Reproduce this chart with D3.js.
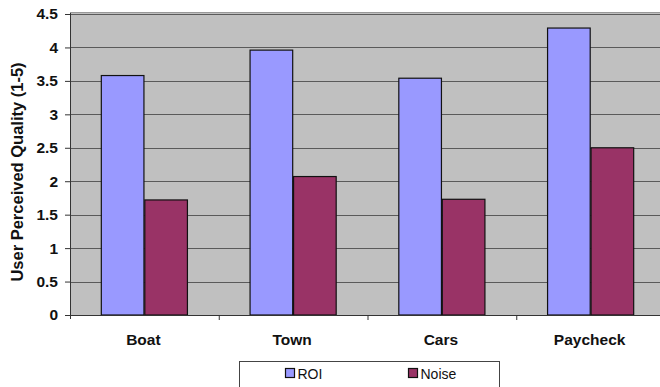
<!DOCTYPE html>
<html lang="en">
<head>
    <meta charset="UTF-8">
    <title>User Perceived Quality</title>
    <script src="https://d3js.org/d3.v7.min.js"></script>
    <style>
        body { margin: 0; background: #fff; font-family: Arial, "Liberation Sans", sans-serif; }
        svg { display: block; }
    </style>
</head>
<body>
    <div id="chart"></div>
    <script>
        const categories = ["Boat", "Town", "Cars", "Paycheck"];
        const seriesNames = ["ROI", "Noise"];
        const roiValues = [3.58, 3.96, 3.54, 4.29];
        const noiseValues = [1.72, 2.07, 1.73, 2.5];
        const yTicks = [0, 0.5, 1, 1.5, 2, 2.5, 3, 3.5, 4, 4.5];

        const colors = { ROI: "#9999FF", Noise: "#993366" };
        const W = 660, H = 387;
        const margin = { top: 14, right: -5, bottom: 72, left: 70 };
        const width = W - margin.left - margin.right;
        const height = H - margin.top - margin.bottom;

        const data = categories.map((c, i) => ({ cat: c, ROI: roiValues[i], Noise: noiseValues[i] }));

        const svg = d3.select("#chart").append("svg")
            .attr("width", W).attr("height", H);
        const g = svg.append("g").attr("transform", `translate(${margin.left},${margin.top})`);

        const x0 = d3.scaleBand().domain(categories).range([0, width]).paddingInner(0).paddingOuter(0);
        const x1 = d3.scaleBand().domain(seriesNames).range([0, x0.bandwidth()]).paddingInner(0.02).paddingOuter(0.72);
        const y = d3.scaleLinear().domain([0, 4.5]).range([height, 0]);

        // plot background
        g.append("rect").attr("x", 0).attr("y", -1).attr("width", width).attr("height", height + 1)
            .attr("fill", "#C0C0C0");
        g.append("line").attr("x1", 0).attr("x2", width).attr("y1", -1.5).attr("y2", -1.5)
            .attr("stroke", "#999");

        // gridlines
        g.selectAll(".grid").data(yTicks.slice(1)).enter().append("line")
            .attr("x1", 0).attr("x2", width)
            .attr("y1", d => Math.round(y(d)) + 0.5).attr("y2", d => Math.round(y(d)) + 0.5)
            .attr("stroke", "#5a5a5a").attr("stroke-width", 1);

        // bars
        const groups = g.selectAll(".grp").data(data).enter().append("g")
            .attr("transform", d => `translate(${x0(d.cat)},0)`);
        groups.selectAll("rect").data(d => seriesNames.map(s => ({ s, v: d[s] }))).enter().append("rect")
            .attr("x", d => x1(d.s))
            .attr("y", d => y(d.v))
            .attr("width", x1.bandwidth())
            .attr("height", d => height - y(d.v))
            .attr("fill", d => colors[d.s])
            .attr("stroke", "#111").attr("stroke-width", 1.2);

        // y axis
        const yAxis = g.append("g").call(d3.axisLeft(y).tickValues(yTicks).tickSize(5).tickPadding(7)
            .tickFormat(d => String(d)));
        yAxis.select(".domain").attr("stroke", "#333").attr("d", `M0.5,${height + 4}V-1`);
        yAxis.selectAll(".tick line").attr("stroke", "#333");
        yAxis.selectAll("text").attr("font-size", 15.5).attr("font-weight", "bold")
            .attr("font-family", "Arial, Liberation Sans, sans-serif").attr("fill", "#111");

        // x axis
        g.append("line").attr("x1", 0).attr("x2", width).attr("y1", height + 0.5).attr("y2", height + 0.5)
            .attr("stroke", "#333");
        g.selectAll(".xsep").data(categories.slice(1)).enter().append("line")
            .attr("x1", d => x0(d) + 0.5).attr("x2", d => x0(d) + 0.5)
            .attr("y1", height).attr("y2", height + 5).attr("stroke", "#333");
        g.selectAll(".xlab").data(categories).enter().append("text")
            .attr("x", d => x0(d) + x0.bandwidth() / 2 - 1)
            .attr("y", height + 30)
            .attr("text-anchor", "middle")
            .attr("font-size", 15.5).attr("font-weight", "bold").attr("fill", "#111")
            .text(d => d);

        // y title
        svg.append("text")
            .attr("transform", "translate(23,172) rotate(-90)")
            .attr("text-anchor", "middle")
            .attr("font-size", 16.5).attr("font-weight", "bold").attr("fill", "#111")
            .text("User Perceived Quality (1-5)");

        // legend
        const lg = svg.append("g").attr("transform", "translate(239.5,361.5)");
        lg.append("rect").attr("width", 260).attr("height", 40).attr("fill", "#fff").attr("stroke", "#444");
        const lx = [46, 169];
        seriesNames.forEach((s, i) => {
            lg.append("rect").attr("x", lx[i]).attr("y", 7).attr("width", 9).attr("height", 9)
                .attr("fill", colors[s]).attr("stroke", "#111").attr("stroke-width", 1.2);
            lg.append("text").attr("x", lx[i] + 12).attr("y", 17)
                .attr("font-size", 14).attr("fill", "#111").text(s);
        });
    </script>
</body>
</html>
